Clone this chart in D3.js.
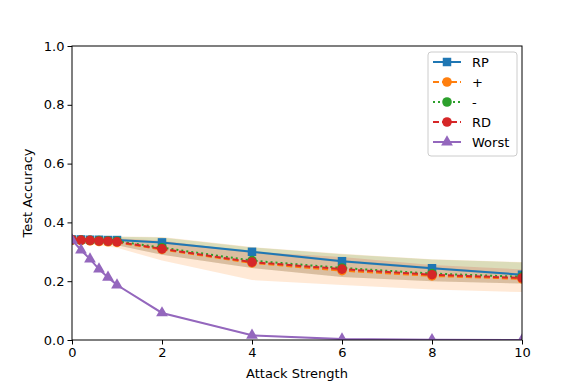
<!DOCTYPE html>
<html>
<head>
<meta charset="utf-8">
<script src="https://cdn.jsdelivr.net/npm/d3@7"></script>
<style>
  body { margin: 0; background: #fff; }
  text { font-family: "DejaVu Sans", sans-serif; }
</style>
</head>
<body>
<div id="chart"></div>
<script>
// Attack strengths on the x axis
const strengths = [0, 0.2, 0.4, 0.6, 0.8, 1, 2, 4, 6, 8, 10];

// Mean test accuracy per method
const rpMean    = [0.342, 0.342, 0.341, 0.341, 0.340, 0.340, 0.332, 0.300, 0.268, 0.244, 0.222];
const plusMean  = [0.340, 0.338, 0.337, 0.335, 0.334, 0.332, 0.308, 0.262, 0.236, 0.218, 0.208];
const minusMean = [0.341, 0.340, 0.339, 0.338, 0.337, 0.336, 0.314, 0.270, 0.245, 0.226, 0.215];
const rdMean    = [0.341, 0.340, 0.339, 0.337, 0.336, 0.334, 0.310, 0.265, 0.241, 0.222, 0.211];
const worstMean = [0.340, 0.306, 0.275, 0.241, 0.213, 0.187, 0.092, 0.016, 0.003, 0.001, 0.000];

// Shaded band edges per method
const rpLo    = [0.339, 0.339, 0.338, 0.338, 0.337, 0.337, 0.329, 0.296, 0.264, 0.240, 0.218];
const rpHi    = [0.345, 0.345, 0.344, 0.344, 0.343, 0.343, 0.335, 0.304, 0.272, 0.248, 0.226];
const plusLo  = [0.335, 0.330, 0.326, 0.322, 0.318, 0.314, 0.270, 0.204, 0.187, 0.172, 0.163];
const plusHi  = [0.346, 0.348, 0.349, 0.350, 0.351, 0.352, 0.350, 0.316, 0.293, 0.275, 0.265];
const minusLo = [0.336, 0.333, 0.330, 0.328, 0.325, 0.322, 0.290, 0.245, 0.214, 0.200, 0.192];
const minusHi = [0.346, 0.347, 0.348, 0.349, 0.350, 0.351, 0.349, 0.315, 0.292, 0.274, 0.264];
const rdLo    = [0.336, 0.333, 0.330, 0.328, 0.325, 0.322, 0.290, 0.245, 0.214, 0.200, 0.192];
const rdHi    = [0.345, 0.345, 0.345, 0.346, 0.346, 0.346, 0.338, 0.300, 0.282, 0.255, 0.240];
const worstLo = [0.338, 0.304, 0.273, 0.239, 0.211, 0.185, 0.090, 0.014, 0.002, 0.000, 0.000];
const worstHi = [0.342, 0.308, 0.277, 0.243, 0.215, 0.189, 0.094, 0.018, 0.004, 0.002, 0.000];

const xTicks = [0, 2, 4, 6, 8, 10];
const yTicks = [0.0, 0.2, 0.4, 0.6, 0.8, 1.0];

const series = [
    { name: "RP",    mean: rpMean,    lo: rpLo,    hi: rpHi,    color: "#1f77b4", dash: null,  marker: "square" },
    { name: "+",     mean: plusMean,  lo: plusLo,  hi: plusHi,  color: "#ff7f0e", dash: "6,3", marker: "circle" },
    { name: "-",     mean: minusMean, lo: minusLo, hi: minusHi, color: "#2ca02c", dash: "2,3", marker: "circle" },
    { name: "RD",    mean: rdMean,    lo: rdLo,    hi: rdHi,    color: "#d62728", dash: "6,3", marker: "circle" },
    { name: "Worst", mean: worstMean, lo: worstLo, hi: worstHi, color: "#9467bd", dash: null,  marker: "triangle" }
];

const margin = { top: 46, right: 59, bottom: 48, left: 72 };
const width = 581 - margin.left - margin.right;
const height = 388 - margin.top - margin.bottom;

const svg = d3.select("#chart")
    .append("svg")
    .attr("width", 581)
    .attr("height", 388)
    .append("g")
    .attr("transform", "translate(" + margin.left + "," + margin.top + ")");

const x = d3.scaleLinear().domain([0, 10]).range([0, width]);
const y = d3.scaleLinear().domain([0, 1]).range([height, 0]);

svg.append("clipPath")
    .attr("id", "plot-clip")
    .append("rect")
    .attr("width", width)
    .attr("height", height);

const plot = svg.append("g").attr("clip-path", "url(#plot-clip)");

// Shaded bands
const area = d3.area()
    .x(d => x(d.x))
    .y0(d => y(d.lo))
    .y1(d => y(d.hi));

series.forEach(s => {
    const pts = strengths.map((v, i) => ({ x: v, lo: s.lo[i], hi: s.hi[i] }));
    plot.append("path")
        .datum(pts)
        .attr("d", area)
        .attr("fill", s.color)
        .attr("fill-opacity", 0.17);
});

const line = d3.line().x(d => x(d.x)).y(d => y(d.m));

const symbols = {
    square: d3.symbol().type(d3.symbolSquare).size(72),
    circle: d3.symbol().type(d3.symbolCircle).size(72),
    triangle: d3.symbol().type(d3.symbolTriangle).size(60)
};

// Lines and markers
series.forEach(s => {
    const pts = strengths.map((v, i) => ({ x: v, m: s.mean[i] }));
    const g = plot.append("g");
    g.append("path")
        .datum(pts)
        .attr("d", line)
        .attr("fill", "none")
        .attr("stroke", s.color)
        .attr("stroke-width", 2)
        .attr("stroke-dasharray", s.dash);
    g.selectAll(".m")
        .data(pts)
        .enter()
        .append("path")
        .attr("transform", d => "translate(" + x(d.x) + "," + y(d.m) + ")")
        .attr("d", symbols[s.marker])
        .attr("fill", s.color);
});

// Axes
const xAxis = svg.append("g")
    .attr("transform", "translate(0," + height + ")")
    .call(d3.axisBottom(x).tickValues(xTicks).tickSize(4.5).tickPadding(3).tickFormat(d3.format("d")));

const yAxis = svg.append("g")
    .call(d3.axisLeft(y).tickValues(yTicks).tickSize(4.5).tickPadding(3).tickFormat(d3.format(".1f")));

[xAxis, yAxis].forEach(a => {
    a.selectAll("text").attr("font-size", "13px").attr("fill", "#000");
    a.selectAll("line").attr("stroke", "#000");
    a.select(".domain").remove();
});

// Frame
svg.append("rect")
    .attr("width", width)
    .attr("height", height)
    .attr("fill", "none")
    .attr("stroke", "#000")
    .attr("stroke-width", 1);

svg.append("text")
    .attr("x", width / 2)
    .attr("y", height + 38)
    .attr("text-anchor", "middle")
    .attr("font-size", "13px")
    .text("Attack Strength");

svg.append("text")
    .attr("transform", "rotate(-90)")
    .attr("x", -height / 2)
    .attr("y", -40)
    .attr("text-anchor", "middle")
    .attr("font-size", "13px")
    .text("Test Accuracy");

// Legend
const legend = svg.append("g").attr("transform", "translate(" + (width - 94) + ",6)");
legend.append("rect")
    .attr("width", 89)
    .attr("height", 104)
    .attr("rx", 3)
    .attr("fill", "#fff")
    .attr("fill-opacity", 0.8)
    .attr("stroke", "#ccc");

series.forEach((s, i) => {
    const row = legend.append("g").attr("transform", "translate(0," + (10 + i * 20) + ")");
    row.append("line")
        .attr("x1", 5).attr("x2", 33)
        .attr("stroke", s.color)
        .attr("stroke-width", 2)
        .attr("stroke-dasharray", s.dash);
    row.append("path")
        .attr("transform", "translate(19,0)")
        .attr("d", symbols[s.marker])
        .attr("fill", s.color);
    row.append("text")
        .attr("x", 44)
        .attr("y", 5)
        .attr("font-size", "13px")
        .text(s.name);
});
</script>
</body>
</html>
